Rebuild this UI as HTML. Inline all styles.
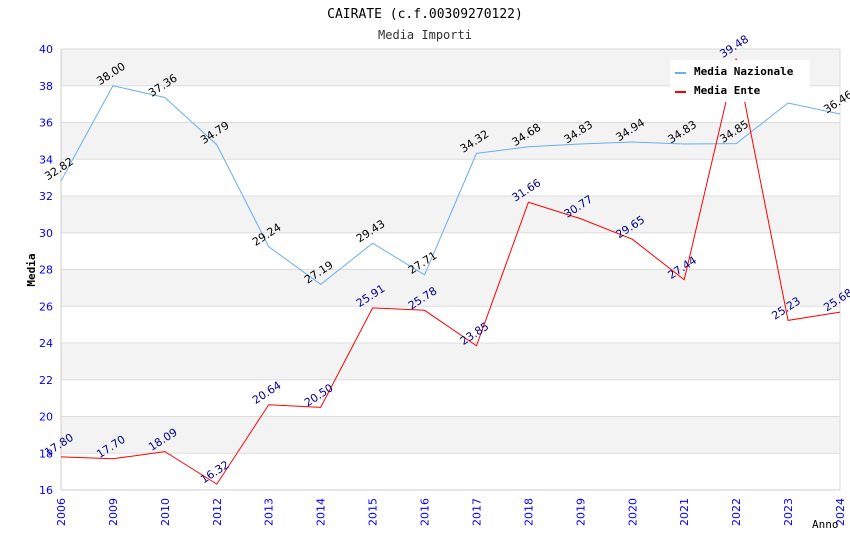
<!DOCTYPE html>
<html><head><meta charset="utf-8"><style>body{margin:0;background:#fff}svg{display:block}</style></head>
<body>
<svg id="c" width="850" height="550" xmlns="http://www.w3.org/2000/svg">
<text x="425" y="18" text-anchor="middle" font-family="DejaVu Sans Mono, Liberation Mono, monospace" font-size="13" fill="#000">CAIRATE (c.f.00309270122)</text>
<text x="425" y="39" text-anchor="middle" font-family="DejaVu Sans Mono, Liberation Mono, monospace" font-size="12" fill="#333">Media Importi</text>
<g id="grid"></g>
<g id="axes"></g>
<g id="series"></g>
<g id="labels"></g>
<text x="35" y="270" transform="rotate(-90 35 270)" text-anchor="middle" font-family="DejaVu Sans Mono, monospace" font-size="11" font-weight="bold">Media</text>
<text x="812" y="528" font-family="DejaVu Sans Mono, monospace" font-size="11">Anno</text>
<g>
<rect x="670" y="60" width="140" height="42" fill="#fff"/>
<line x1="675" y1="73" x2="686" y2="73" stroke="#6aaef0" stroke-width="2"/>
<text x="694" y="75" font-family="DejaVu Sans Mono, monospace" font-size="11" font-weight="bold">Media Nazionale</text>
<line x1="675" y1="92" x2="686" y2="92" stroke="#f00" stroke-width="2"/>
<text x="694" y="94" font-family="DejaVu Sans Mono, monospace" font-size="11" font-weight="bold">Media Ente</text>
</g>
</svg>
<script>
const categories=["2006","2009","2010","2012","2013","2014","2015","2016","2017","2018","2019","2020","2021","2022","2023","2024"];
const nazionale=[32.82,38.00,37.36,34.79,29.24,27.19,29.43,27.71,34.32,34.68,34.83,34.94,34.83,34.85,37.06,36.46];
const ente=[17.80,17.70,18.09,16.32,20.64,20.50,25.91,25.78,23.85,31.66,30.77,29.65,27.44,39.48,25.23,25.68];
const yTicks=[16,18,20,22,24,26,28,30,32,34,36,38,40];
const NS="http://www.w3.org/2000/svg";
const L=61,R=840,T=49,B=490,yMin=16,yMax=40;
const x=i=>L+i*(R-L)/(categories.length-1);
const y=v=>B-(v-yMin)/(yMax-yMin)*(B-T);
function mk(tag,attrs,parent){const e=document.createElementNS(NS,tag);for(const k in attrs)e.setAttribute(k,attrs[k]);parent.appendChild(e);return e;}
const grid=document.getElementById('grid'),axes=document.getElementById('axes'),series=document.getElementById('series'),labels=document.getElementById('labels');
for(let k=0;k<yTicks.length-1;k++){
  const a=yTicks[k],b=yTicks[k+1];
  const r=mk('rect',{x:L,y:y(b),width:R-L,height:y(a)-y(b),fill:(a%4===2)?'#f3f3f3':'#fff'},grid);
  
  
}
yTicks.forEach(t=>{
  const l=mk('line',{x1:L,x2:R,y1:y(t),y2:y(t),stroke:'#ddd','stroke-width':1},grid);
  
  
  const tx=mk('text',{x:L-8,y:y(t)+4,'text-anchor':'end','font-family':'DejaVu Sans, sans-serif','font-size':11,fill:'#00f'},axes);
  tx.textContent=t;
  
  
});
mk('line',{x1:L,x2:L,y1:T,y2:B,stroke:'#ccc'},axes);
mk('line',{x1:R,x2:R,y1:T,y2:B,stroke:'#ddd'},axes);
mk('line',{x1:L,x2:R,y1:B,y2:B,stroke:'#ccc'},axes);
categories.forEach((c,i)=>{
  const tx=mk('text',{x:x(i)+4,y:B+8,transform:`rotate(-90 ${x(i)+4} ${B+8})`,'text-anchor':'end','font-family':'DejaVu Sans, sans-serif','font-size':11,fill:'#00f'},axes);
  tx.textContent=c;
  
  
});
function drawSeries(vals,color,labelColor,name,skip){
  const p=mk('polyline',{points:vals.map((v,i)=>x(i)+','+y(v)).join(' '),fill:'none',stroke:color,'stroke-width':1},series);
  
  
  vals.forEach((v,i)=>{
    if(skip&&skip.includes(i))return;
    const lx=x(i),ly=y(v)-9;
    const t=mk('text',{x:lx,y:ly,transform:`rotate(-33 ${lx} ${ly})`,'text-anchor':'middle','font-family':'DejaVu Sans, sans-serif','font-size':11,fill:labelColor},labels);
    t.textContent=v.toFixed(2);
    
    
  });
}
drawSeries(nazionale,'#6aaef0','#000','nazionale',[14]);
drawSeries(ente,'#f00','#00008b','ente');
</script>
</body></html>
